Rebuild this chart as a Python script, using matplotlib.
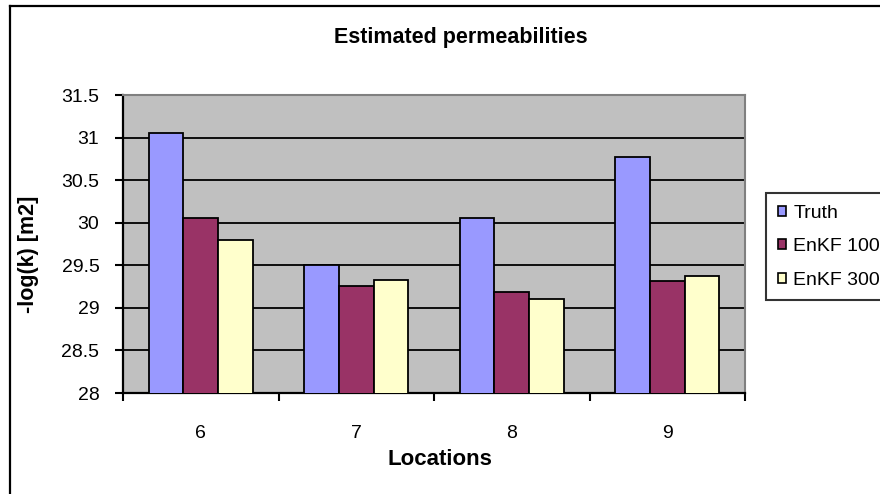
import matplotlib
matplotlib.use("Agg")
import matplotlib.pyplot as plt
from matplotlib.lines import Line2D
import numpy as np

# Estimated permeabilities per location
locations = ["6", "7", "8", "9"]
truth = [31.05, 29.50, 30.05, 30.77]
enkf_100 = [30.05, 29.26, 29.19, 29.31]
enkf_300 = [29.80, 29.33, 29.10, 29.38]
series_names = ["Truth", "EnKF 100", "EnKF 300"]
y_ticks = [28, 28.5, 29, 29.5, 30, 30.5, 31, 31.5]

colors = ["#9999FF", "#993366", "#FFFFCC"]

plt.rcParams['font.family'] = ['Liberation Sans', 'DejaVu Sans']

fig = plt.figure(figsize=(8.8, 4.94), dpi=100)
fig.patch.set_facecolor("white")
ax = fig.add_axes([123 / 880, 1 - 393 / 494, 622 / 880, 298 / 494])
ax.set_facecolor("#C0C0C0")

x = np.arange(len(locations))
width = 1 / 4.5
for i, (name, vals) in enumerate(zip(series_names, [truth, enkf_100, enkf_300])):
    ax.bar(x + (i - 1) * width, vals, width=width, color=colors[i],
           edgecolor="black", linewidth=1.3, label=name, zorder=3)

ax.set_xlim(-0.5, len(locations) - 0.5)
ax.set_ylim(28, 31.5)

# y axis
ax.set_yticks(y_ticks)
ax.set_yticklabels([f"{t:g}" for t in y_ticks])
ax.yaxis.grid(True, color="black", linewidth=1.3, zorder=1)
ax.set_axisbelow(True)
ax.tick_params(axis="y", direction="out", length=6, width=1.5, pad=11, labelsize=14)

# x axis: marks between categories, labels at centres
ax.set_xticks(x)
ax.set_xticklabels(locations)
ax.set_xticks(np.arange(-0.5, len(locations)), minor=True)
ax.tick_params(axis="x", which="major", length=0, pad=23, labelsize=14)
ax.tick_params(axis="x", which="minor", direction="out", length=6, width=1.5)

for side in ["left", "bottom"]:
    ax.spines[side].set_color("black")
    ax.spines[side].set_linewidth(1.6)
for side in ["top", "right"]:
    ax.spines[side].set_color("#808080")
    ax.spines[side].set_linewidth(1.5)

ax.set_xlabel("Locations", fontsize=16, fontweight="bold")
ax.xaxis.set_label_coords((440 - 123) / 622, (393 - 449) / 298)
ax.set_ylabel("-log(k) [m2]", fontsize=15.5, fontweight="bold")
ax.yaxis.set_label_coords((39 - 123) / 622, (393 - 254) / 298)

fig.text(461 / 880, 1 - 37 / 494, "Estimated permeabilities", fontsize=15.5,
         fontweight="bold", ha="center", va="center")

leg = ax.legend(loc="upper left", bbox_to_anchor=(766 / 880, 1 - 193 / 494),
                bbox_transform=fig.transFigure, fontsize=14, frameon=True,
                fancybox=False, shadow=False, borderaxespad=0,
                handlelength=0.45, handleheight=0.45, handletextpad=0.35,
                labelspacing=0.85, borderpad=0.6)
leg.get_frame().set_edgecolor("black")
leg.get_frame().set_linewidth(1.5)
for h in leg.legend_handles:
    h.set_linewidth(1.2)

# chart area border (left and top edges)
fig.add_artist(Line2D([9.5 / 880, 9.5 / 880], [0, 1 - 6 / 494], color="black",
                      linewidth=1.6, transform=fig.transFigure))
fig.add_artist(Line2D([9.5 / 880, 1], [1 - 6 / 494, 1 - 6 / 494], color="black",
                      linewidth=1.6, transform=fig.transFigure))

fig.savefig("out.png", dpi=100)
